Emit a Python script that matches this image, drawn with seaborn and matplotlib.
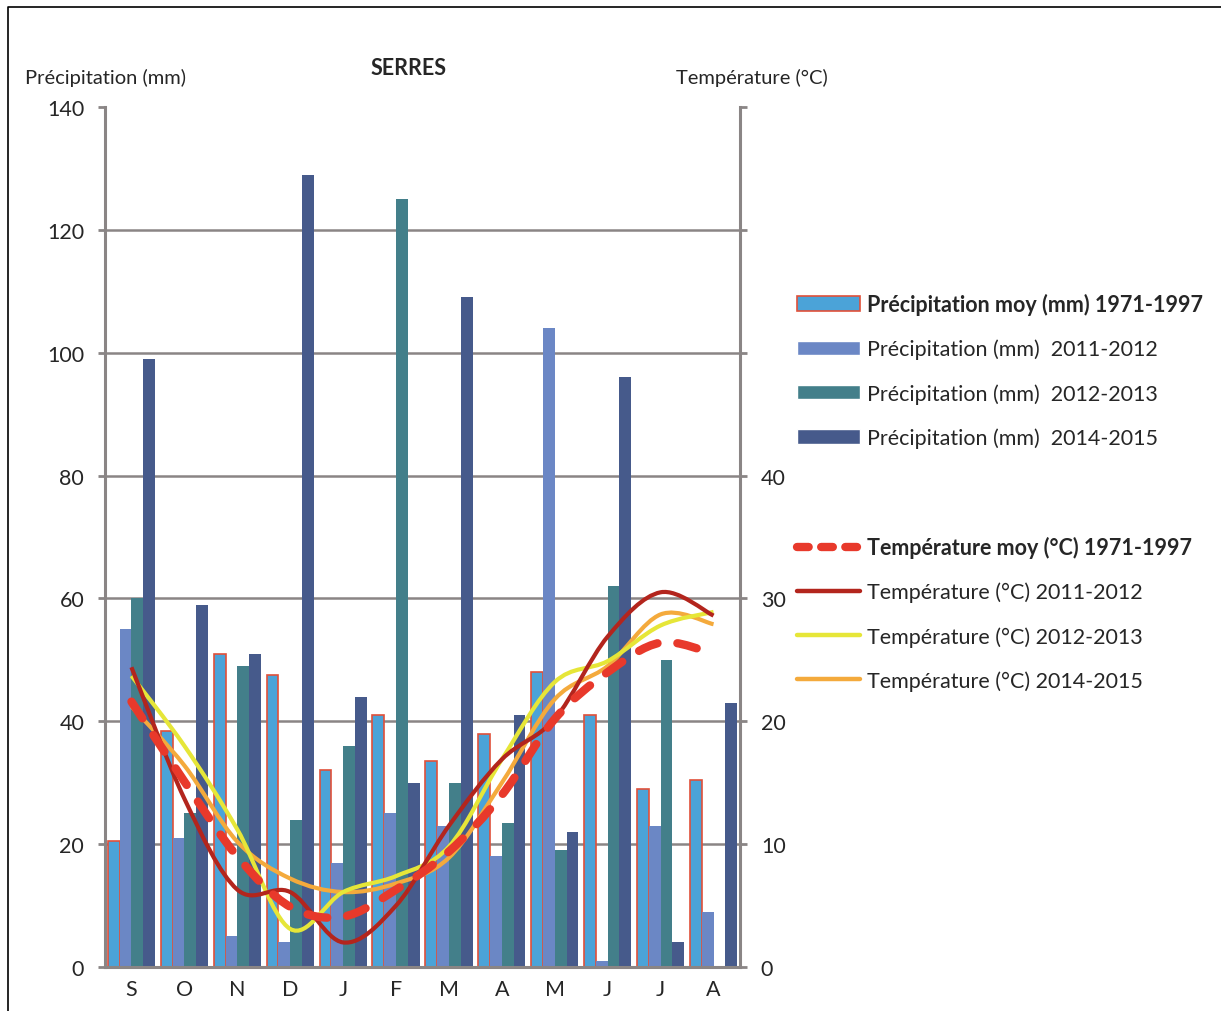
# Climate chart - SERRES: monthly precipitation (bars) and temperature (smooth lines)

import numpy as np
import pandas as pd
import matplotlib.pyplot as plt
import seaborn as sns
from matplotlib.path import Path
from matplotlib.patches import PathPatch, Patch
from matplotlib.lines import Line2D

# ===== Data =====
months = ["S", "O", "N", "D", "J", "F", "M", "A", "M", "J", "J", "A"]

precip_moy = [20.5, 38.5, 51, 47.5, 32, 41, 33.5, 38, 48, 41, 29, 30.5]
precip_2011 = [55, 21, 5, 4, 17, 25, 23, 18, 104, 1, 23, 9]
precip_2012 = [60, 25, 49, 24, 36, 125, 30, 23.5, 19, 62, 50, 0]
precip_2014 = [99, 59, 51, 129, 44, 30, 109, 41, 22, 96, 4, 43]

temp_moy = [21.6, 15.1, 9.0, 4.9, 4.1, 6.3, 9.4, 14.0, 20.2, 24.0, 26.4, 25.5]
temp_2011 = [24.4, 13.7, 6.3, 6.1, 2.0, 5.0, 11.5, 16.9, 20.2, 26.9, 30.5, 28.6]
temp_2012 = [23.7, 18.0, 11.2, 3.1, 6.1, 7.4, 9.8, 16.9, 23.2, 24.9, 27.8, 28.9]
temp_2014 = [21.2, 16.4, 10.2, 7.2, 6.1, 6.8, 8.9, 15.0, 21.8, 24.5, 28.7, 27.9]

p_labels = ["Précipitation moy (mm) 1971-1997",
            "Précipitation (mm)  2011-2012",
            "Précipitation (mm)  2012-2013",
            "Précipitation (mm)  2014-2015"]
t_labels = ["Température moy (°C) 1971-1997",
            "Température (°C) 2011-2012",
            "Température (°C) 2012-2013",
            "Température (°C) 2014-2015"]

p_colors = ["#4ba3d8", "#6b87c5", "#437f8a", "#465a8b"]
t_colors = ["#e8392b", "#b3251d", "#e6e638", "#f4aa3c"]
gray = "#8a8585"

# ===== Style =====
sns.set_style("white")
plt.rcParams["font.family"] = ["Lato", "DejaVu Sans"]
fs = 15.5

df = pd.DataFrame({
    "mois": list(range(12)) * 4,
    "serie": np.repeat(p_labels, 12),
    "valeur": precip_moy + precip_2011 + precip_2012 + precip_2014,
})

fig = plt.figure(figsize=(12.21, 10.12), dpi=100)
ax = fig.add_axes([105 / 1221, 44 / 1012, 635 / 1221, 860 / 1012])

sns.barplot(data=df, x="mois", y="valeur", hue="serie", hue_order=p_labels,
            order=list(range(12)), palette=p_colors, width=0.89, saturation=1,
            linewidth=0, legend=False, ax=ax)
for bar in ax.containers[0]:
    bar.set_edgecolor("#e0503a")
    bar.set_linewidth(1.2)

ax.set_xlim(-0.5, 11.5)
ax.set_ylim(0, 140)
ax.set_yticks(range(0, 141, 20))
ax.set_xticks(range(12))
ax.set_xticklabels(months)
ax.set_xticks(np.arange(-0.5, 12, 1), minor=True)
ax.set_xlabel("")
ax.set_ylabel("")
ax.set_axisbelow(True)
ax.yaxis.grid(True, color=gray, lw=1.8)
ax.get_ygridlines()[-1].set_visible(False)

for side in ["top", "right"]:
    ax.spines[side].set_visible(False)
for side in ["left", "bottom"]:
    ax.spines[side].set_color(gray)
    ax.spines[side].set_linewidth(2.2)
ax.tick_params(axis="y", direction="out", length=5, width=2, color=gray,
               labelsize=fs, pad=10)
ax.tick_params(axis="x", which="major", length=0, labelsize=fs, pad=9)
ax.tick_params(axis="x", which="minor", direction="out", length=6, width=2,
               color=gray)

# ===== Temperature (right axis) =====
ax2 = ax.twinx()
ax2.set_ylim(0, 70)
ax2.set_yticks(range(0, 71, 10))
ax2.set_yticklabels(["0", "10", "20", "30", "40", "", "", ""])
for side in ["top", "left", "bottom"]:
    ax2.spines[side].set_visible(False)
ax2.spines["right"].set_color(gray)
ax2.spines["right"].set_linewidth(2.2)
ax2.tick_params(axis="y", direction="out", length=5, width=2, color=gray,
                labelsize=fs, pad=10)


def smooth_path(xs, ys):
    # Excel-like smoothed line (Catmull-Rom as cubic Bezier)
    pts = np.column_stack([xs, ys]).astype(float)
    n = len(pts)
    verts = [pts[0]]
    codes = [Path.MOVETO]
    for i in range(n - 1):
        p0 = pts[i - 1] if i > 0 else pts[i]
        p1, p2 = pts[i], pts[i + 1]
        p3 = pts[i + 2] if i + 2 < n else pts[i + 1]
        verts += [p1 + (p2 - p0) / 6, p2 - (p3 - p1) / 6, p2]
        codes += [Path.CURVE4] * 3
    return Path(verts, codes)


x = np.arange(12)
series_t = [temp_moy, temp_2011, temp_2012, temp_2014]
for vals, col, i in zip(series_t, t_colors, range(4)):
    if i == 0:
        patch = PathPatch(smooth_path(x, vals), facecolor="none", edgecolor=col,
                          lw=6, linestyle=(0, (2.4, 2.4)), capstyle="round",
                          zorder=5)
    else:
        patch = PathPatch(smooth_path(x, vals), facecolor="none", edgecolor=col,
                          lw=3.0, zorder=4 + (3 - i) * 0.1)
    ax2.add_patch(patch)

# ===== Texts =====
fig.text(409 / 1221, 1 - 69 / 1012, "SERRES", ha="center", va="center",
         fontsize=15.5, fontweight="bold")
fig.text(25 / 1221, 1 - 78 / 1012, "Précipitation (mm)", ha="left",
         va="center", fontsize=14.5)
fig.text(828 / 1221, 1 - 78 / 1012, "Température (°C)", ha="right",
         va="center", fontsize=14.5)

# ===== Legends =====
p_handles = [Patch(facecolor=p_colors[0], edgecolor="#e0503a", lw=1.2)] + \
            [Patch(facecolor=c) for c in p_colors[1:]]
leg1 = fig.legend(p_handles, p_labels, loc="upper left",
                  bbox_to_anchor=(797 / 1221, 1 - 294 / 1012), frameon=False,
                  fontsize=fs, handlelength=2.93, handletextpad=0.33,
                  handleheight=0.65, labelspacing=1.1, borderpad=0,
                  borderaxespad=0)
leg1.get_texts()[0].set_fontweight("bold")

t_handles = [Line2D([], [], color=t_colors[0], lw=6, linestyle=(0, (1.4, 1.5)),
                    dash_capstyle="round")] + \
            [Line2D([], [], color=c, lw=3.2) for c in t_colors[1:]]
leg2 = fig.legend(t_handles, t_labels, loc="upper left",
                  bbox_to_anchor=(797 / 1221, 1 - 537 / 1012), frameon=False,
                  fontsize=fs, handlelength=2.93, handletextpad=0.33,
                  labelspacing=1.1, borderpad=0, borderaxespad=0)
leg2.get_texts()[0].set_fontweight("bold")

# frame around the figure (left and top edges visible)
fig.add_artist(Line2D([8 / 1221, 8 / 1221, 1], [0, 1 - 8 / 1012, 1 - 8 / 1012],
                      transform=fig.transFigure, color="black", lw=1.2))

fig.savefig("out.png", dpi=100)
